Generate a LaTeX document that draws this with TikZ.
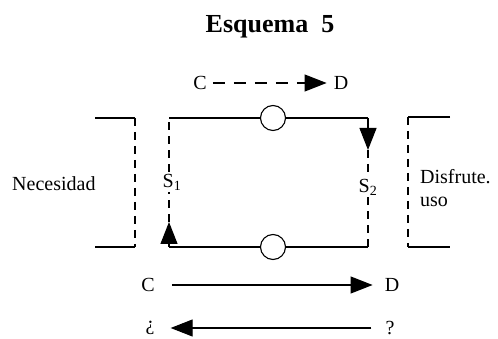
\documentclass[tikz,border=0pt]{standalone}
\usepackage{fontspec}
\setmainfont{Liberation Serif}
\usetikzlibrary{arrows.meta}

\begin{document}
\begin{tikzpicture}[
    x=1pt, y=-1pt,
    font=\fontsize{20}{23}\selectfont,
    lbl/.style={inner sep=0pt},
    valve/.style={draw, circle, line width=1.1pt, minimum size=25pt, inner sep=0pt, fill=white},
    wire/.style={line width=1.1pt},
    dwire/.style={line width=1.1pt, dash pattern=on 8pt off 6pt},
    arr/.style={-{Triangle[length=22pt, width=17pt]}, line width=1.1pt}]
  \useasboundingbox (0,0) rectangle (498,339);
  \node[font=\fontsize{26}{30}\selectfont\bfseries] (title) at (270,27) {Esquema\ \ 5};
  % top flow
  \node[lbl] (c1) at (200,83) {C};
  \node[lbl] (d1) at (341,83) {D};
  \draw[arr, dash pattern=on 12pt off 9pt, shorten <=6pt, shorten >=7pt] (c1) -- (d1);
  % loop
  \coordinate (tl) at (169,118);
  \coordinate (tr) at (368,118);
  \coordinate (br) at (368,247);
  \coordinate (bl) at (169,247);
  \coordinate (tra) at (368,150);
  \coordinate (bla) at (169,222);
  \node[valve] (vt) at (273,118) {};
  \node[valve] (vb) at (273,247) {};
  \draw[wire] (tl) -- (vt) -- (tr);
  \draw[wire] (bl) -- (vb) -- (br);
  \draw[arr] (tr) -- (tra);
  \draw[arr] (bl) -- (bla);
  \node[lbl, inner sep=2pt] (s1) at (172,182) {S\textsubscript{1}};
  \node[lbl, inner sep=2pt] (s2) at (368,187) {S\textsubscript{2}};
  \draw[dwire] (tra) -- (s2) -- (br);
  \draw[dwire] (bla) -- (s1.south -| bla);
  \draw[dwire] (s1.north -| tl) -- (tl);
  % brackets
  \draw[wire] (95,118) -- (135,118);
  \draw[dwire] (135,118) -- (135,247);
  \draw[wire] (135,247) -- (95,247);
  \draw[wire] (450,117) -- (408,117);
  \draw[dwire] (408,117) -- (408,247);
  \draw[wire] (408,247) -- (450,247);
  \node[lbl, anchor=west] (nec) at (12,184) {Necesidad};
  \node[lbl, anchor=north west, align=left] (dis) at (420,169) {Disfrute.\\uso};
  % bottom flows
  \node[lbl] (c2) at (148,285) {C};
  \node[lbl] (d2) at (392,285) {D};
  \draw[arr, shorten <=17pt, shorten >=12pt] (c2) -- (d2);
  \node[lbl] (q1) at (150,328) {¿};
  \node[lbl] (q2) at (390,328) {?};
  \draw[arr, shorten <=14pt, shorten >=16pt] (q2) -- (q1);
\end{tikzpicture}
\end{document}
